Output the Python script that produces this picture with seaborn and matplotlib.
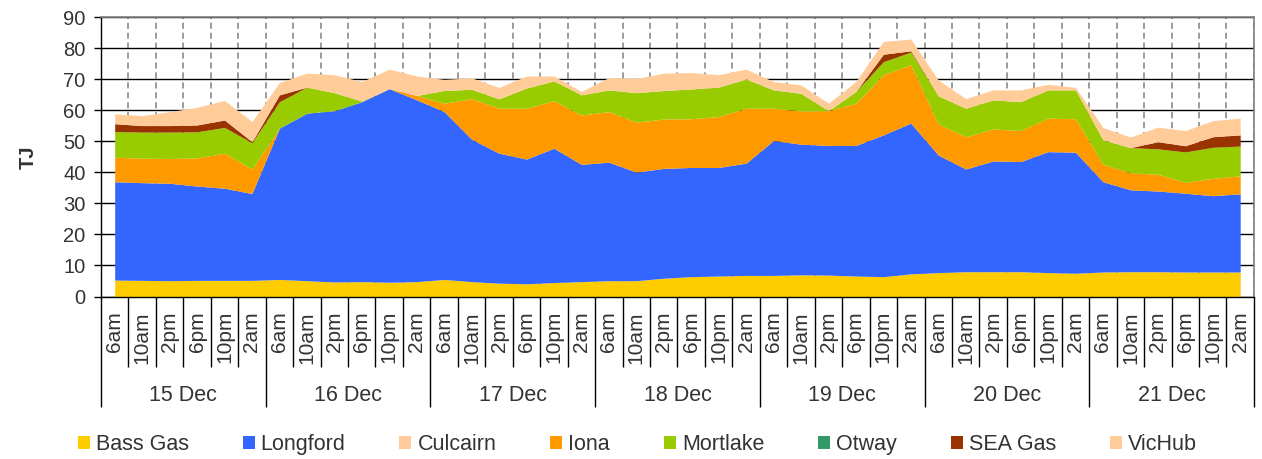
import numpy as np
import pandas as pd
import matplotlib
matplotlib.use('Agg')
import matplotlib.pyplot as plt
import seaborn as sns

# categories
days = ['15 Dec', '16 Dec', '17 Dec', '18 Dec', '19 Dec', '20 Dec', '21 Dec']
times = ['6am', '10am', '2pm', '6pm', '10pm', '2am']

# TJ per period
bass_gas = [5.3, 5.2, 5.1, 5.2, 5.2, 5.2,
            5.5, 5.1, 4.7, 4.8, 4.6, 4.8,
            5.5, 4.8, 4.3, 4.1, 4.5, 4.8,
            5.1, 5.1, 5.9, 6.4, 6.6, 6.8,
            6.8, 7.0, 6.9, 6.6, 6.4, 7.3,
            7.7, 8.0, 8.0, 8.0, 7.7, 7.5,
            7.9, 8.0, 8.0, 7.9, 7.9, 7.9]
longford = [31.7, 31.5, 31.4, 30.4, 29.7, 28.0,
            48.8, 54.0, 55.2, 58.0, 62.4, 58.6,
            54.1, 45.9, 41.9, 40.2, 43.3, 37.8,
            38.2, 35.0, 35.4, 35.2, 35.0, 36.2,
            43.5, 42.1, 41.8, 42.1, 45.7, 48.6,
            37.9, 33.1, 35.7, 35.5, 39.0, 39.0,
            29.1, 26.4, 26.0, 25.4, 24.6, 25.2]
culcairn = [0.0] * 42
iona = [7.9, 7.9, 8.0, 9.1, 11.3, 7.9,
        0.0, 0.0, 0.0, 0.0, 0.0, 1.4,
        2.7, 13.1, 14.5, 16.4, 15.3, 15.9,
        16.3, 16.1, 15.9, 15.7, 16.4, 17.7,
        10.4, 10.7, 11.2, 13.6, 19.4, 18.8,
        10.0, 10.4, 10.3, 10.0, 10.8, 10.8,
        5.6, 5.5, 5.4, 3.5, 5.6, 5.8]
mortlake = [8.3, 8.4, 8.5, 8.4, 8.3, 8.5,
            8.5, 8.4, 5.8, 0.2, 0.0, 0.0,
            4.1, 3.0, 3.0, 6.5, 6.4, 6.5,
            7.0, 9.5, 9.2, 9.6, 9.5, 9.4,
            5.9, 5.7, 0.0, 3.8, 4.2, 4.1,
            9.1, 9.2, 9.4, 9.3, 9.1, 9.3,
            7.9, 8.1, 8.2, 9.8, 10.0, 9.6]
otway = [0.0] * 42
sea_gas = [2.5, 2.1, 2.1, 2.2, 2.4, 0.3,
           2.2, 0.0, 0.0, 0.0, 0.0, 0.0,
           0.0, 0.0, 0.0, 0.0, 0.0, 0.0,
           0.0, 0.0, 0.0, 0.0, 0.0, 0.0,
           0.0, 0.0, 0.0, 0.0, 2.4, 0.4,
           0.0, 0.0, 0.0, 0.0, 0.0, 0.0,
           0.0, 0.0, 2.3, 2.0, 3.4, 3.6]
vichub = [3.2, 3.2, 4.5, 5.7, 6.3, 6.5,
          4.0, 4.5, 5.8, 6.3, 6.3, 6.3,
          3.6, 3.7, 3.7, 3.9, 1.6, 1.1,
          4.0, 4.6, 5.6, 5.3, 4.0, 3.2,
          2.7, 2.7, 2.4, 3.2, 4.1, 3.8,
          5.1, 3.1, 3.2, 3.8, 1.8, 0.8,
          4.0, 3.4, 4.7, 4.9, 5.2, 5.4]

names = ['Bass Gas', 'Longford', 'Culcairn', 'Iona', 'Mortlake', 'Otway', 'SEA Gas', 'VicHub']
colors = ['#FFCC00', '#3366FF', '#FFCC99', '#FF9900', '#99CC00', '#339966', '#993300', '#FFCC99']

df = pd.DataFrame(dict(zip(names, [bass_gas, longford, culcairn, iona, mortlake,
                                     otway, sea_gas, vichub])))

sns.set_style('white')
plt.rcParams['font.family'] = ['Liberation Sans', 'DejaVu Sans']
txt = '#333333'

fig = plt.figure(figsize=(12.62, 4.59), dpi=100)
ax = fig.add_axes([0.0800, 0.354, 0.9136, 0.6083])

x = np.arange(len(df))
ax.stackplot(x, *[df[n] for n in names], labels=names, colors=colors, lw=0)

n = len(df)
ax.set_xlim(-0.5, n - 0.5)
ax.set_ylim(0, 90)
ax.set_yticks(range(0, 91, 10))
ax.tick_params(axis='y', labelsize=14.5, labelcolor=txt, length=5, width=1,
               color='black', pad=6, left=True)

# separators under the x axis: long ones between days, short ones between periods
bounds = np.arange(-0.5, n, 1.0)
day_bounds = np.arange(-0.5, n, len(times))
ax.set_xticks(day_bounds)
ax.set_xticks(bounds, minor=True)
ax.tick_params(axis='x', which='major', length=79, width=1, color='black',
               labelbottom=False, bottom=True)
ax.tick_params(axis='x', which='minor', length=50.5, width=1, color='black',
               bottom=True)

ax.set_axisbelow(True)
ax.grid(axis='y', which='major', color='black', lw=1, ls='-')
ax.grid(axis='x', which='both', color='#808080', lw=1.1, ls=(0, (4, 2.5)))

for s in ['left', 'bottom']:
    ax.spines[s].set_color('black')
    ax.spines[s].set_linewidth(1)
for s in ['top', 'right']:
    ax.spines[s].set_color('#808080')
    ax.spines[s].set_linewidth(1.2)

# period labels
sec = ax.secondary_xaxis('bottom')
sec.set_xticks(x, labels=times * len(days), rotation=90)
sec.tick_params(length=0, pad=10.5, labelsize=15, labelcolor=txt)
sec.spines['bottom'].set_visible(False)

# day labels
sec2 = ax.secondary_xaxis('bottom')
sec2.set_xticks(np.arange(len(days)) * len(times) + (len(times) - 1) / 2, labels=days)
sec2.tick_params(length=0, pad=64, labelsize=15.5, labelcolor=txt)
sec2.spines['bottom'].set_visible(False)

ax.set_ylabel('TJ', fontsize=14.5, fontweight='bold', color=txt)
ax.yaxis.set_label_coords(-0.055, 0.5)

fig.legend(loc='center', bbox_to_anchor=(0.505, 0.031), ncol=8, frameon=False,
           fontsize=15.5, labelcolor=txt, handlelength=0.56, handleheight=0.56,
           handletextpad=0.28, columnspacing=2.5)

fig.savefig('out.png', dpi=100)
